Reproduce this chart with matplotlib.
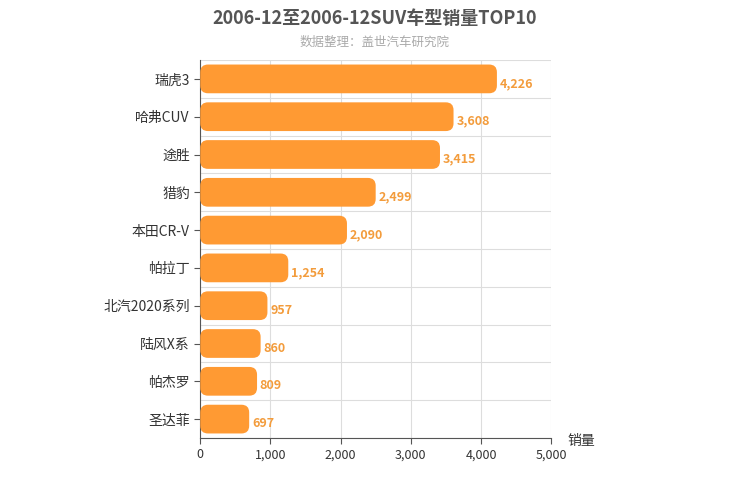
import matplotlib
matplotlib.use("Agg")
import matplotlib.pyplot as plt
from matplotlib.patches import FancyBboxPatch

plt.rcParams["font.family"] = ["Noto Sans CJK SC", "DejaVu Sans"]

categories = ["瑞虎3", "哈弗CUV", "途胜", "猎豹", "本田CR-V", "帕拉丁", "北汽2020系列", "陆风X系", "帕杰罗", "圣达菲"]
values = [4226, 3608, 3415, 2499, 2090, 1254, 957, 860, 809, 697]
xticks = [0, 1000, 2000, 3000, 4000, 5000]

fig = plt.figure(figsize=(7.5, 5), dpi=100)
ax = fig.add_axes([0.267, 0.124, 0.468, 0.756])
n = len(categories)
ax.set_xlim(0, 5000)
ax.set_ylim(n, 0)
color = "#FF9A33"
aspect = (n / 378) / (5000 / 351)
for i, (c, v) in enumerate(zip(categories, values)):
    y0 = i + 0.12
    h = 0.76
    p = FancyBboxPatch((0, y0), v, h, boxstyle="round,pad=0,rounding_size=110",
                       mutation_aspect=aspect, fc=color, ec="none", zorder=3)
    ax.add_patch(p)
    ax.text(v + 40, i + 0.62, f"{v:,}", color="#F39C3C", fontsize=9,
            fontweight="bold", va="center", ha="left", zorder=4)
ax.set_yticks([i + 0.5 for i in range(n)])
ax.set_yticklabels(categories, fontsize=10, color="#333333")
ax.set_xticks(xticks)
ax.set_xticklabels([f"{t:,}" for t in xticks], fontsize=9, color="#333333")
for t in xticks:
    ax.axvline(t, color="#dddddd", lw=0.8, zorder=0)
for i in range(n + 1):
    ax.axhline(i, color="#dddddd", lw=0.8, zorder=0)
for s in ["top", "right"]:
    ax.spines[s].set_visible(False)
ax.spines["left"].set_color("#555555")
ax.spines["bottom"].set_color("#555555")
ax.tick_params(axis="y", length=4, color="#555555")
ax.tick_params(axis="x", length=4, color="#555555")
fig.text(0.5, 0.962, "2006-12至2006-12SUV车型销量TOP10", ha="center", va="center",
         fontsize=13, fontweight="bold", color="#555555")
fig.text(0.5, 0.915, "数据整理：盖世汽车研究院", ha="center", va="center",
         fontsize=9, color="#aaaaaa")
fig.text(0.775, 0.118, "销量", ha="center", va="center", fontsize=10, color="#333333")
fig.savefig("out.png", dpi=100)
